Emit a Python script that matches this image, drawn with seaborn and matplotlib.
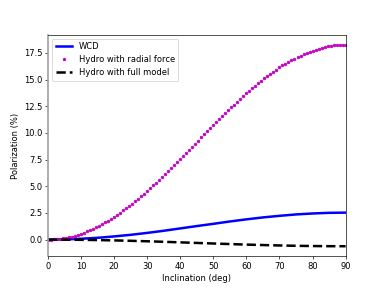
import numpy as np
import pandas as pd
import matplotlib
matplotlib.use("Agg")
import matplotlib.pyplot as plt
import seaborn as sns

# Inclination grid of the dotted series (100 samples from 0 to 90 deg)
incl_dense = np.linspace(0, 90, 100)
hydro_radial = [
    0.00, 0.00, 0.02, 0.04, 0.07, 0.11, 0.17, 0.22, 0.29, 0.37,
    0.46, 0.55, 0.65, 0.77, 0.89, 1.02, 1.15, 1.30, 1.45, 1.61,
    1.78, 1.95, 2.14, 2.33, 2.52, 2.73, 2.94, 3.15, 3.37, 3.60,
    3.84, 4.07, 4.32, 4.57, 4.82, 5.08, 5.34, 5.61, 5.87, 6.15,
    6.42, 6.70, 6.98, 7.26, 7.55, 7.83, 8.12, 8.41, 8.70, 8.99,
    9.28, 9.57, 9.86, 10.15, 10.44, 10.72, 11.01, 11.29, 11.57, 11.85,
    12.12, 12.40, 12.66, 12.93, 13.19, 13.45, 13.70, 13.95, 14.20, 14.43,
    14.67, 14.90, 15.12, 15.33, 15.54, 15.75, 15.94, 16.13, 16.32, 16.49,
    16.66, 16.82, 16.97, 17.12, 17.25, 17.38, 17.50, 17.62, 17.72, 17.81,
    17.90, 17.98, 18.05, 18.10, 18.15, 18.20, 18.23, 18.25, 18.27, 18.27,
]

incl = [0, 5, 10, 15, 20, 25, 30, 35, 40, 45, 50, 55, 60, 65, 70, 75, 80, 85, 90]
wcd = [0.00, 0.02, 0.08, 0.17, 0.30, 0.45, 0.63, 0.83, 1.05, 1.27,
       1.48, 1.70, 1.90, 2.08, 2.23, 2.36, 2.45, 2.51, 2.53]
hydro_full = [0.000, -0.005, -0.019, -0.042, -0.073, -0.111, -0.155, -0.204,
              -0.256, -0.310, -0.364, -0.416, -0.465, -0.509, -0.547, -0.578,
              -0.601, -0.615, -0.620]

df_lines = pd.DataFrame({"incl": incl, "wcd": wcd, "full": hydro_full})
df_dense = pd.DataFrame({"incl": incl_dense, "radial": hydro_radial})

fig = plt.figure(figsize=(6.4, 4.8), dpi=60)
ax = fig.add_subplot(111)

sns.lineplot(data=df_lines, x="incl", y="wcd", ax=ax, color="blue", lw=3,
             label="WCD")
sns.lineplot(data=df_dense, x="incl", y="radial", ax=ax, color="m",
             linestyle="", marker=".", markersize=6, markeredgecolor="m",
             markeredgewidth=1, label="Hydro with radial force")
sns.lineplot(data=df_lines, x="incl", y="full", ax=ax, color="black", lw=3,
             linestyle="--", label="Hydro with full model")

ax.set_xlim(0, 90)
ax.set_xlabel("Inclination (deg)")
ax.set_ylabel("Polarization (%)")
ax.spines["left"].set_color("#a0a0a0")
ax.spines["left"].set_linewidth(2)
ax.legend(loc="upper left")

fig.savefig("out.png", dpi=60)
